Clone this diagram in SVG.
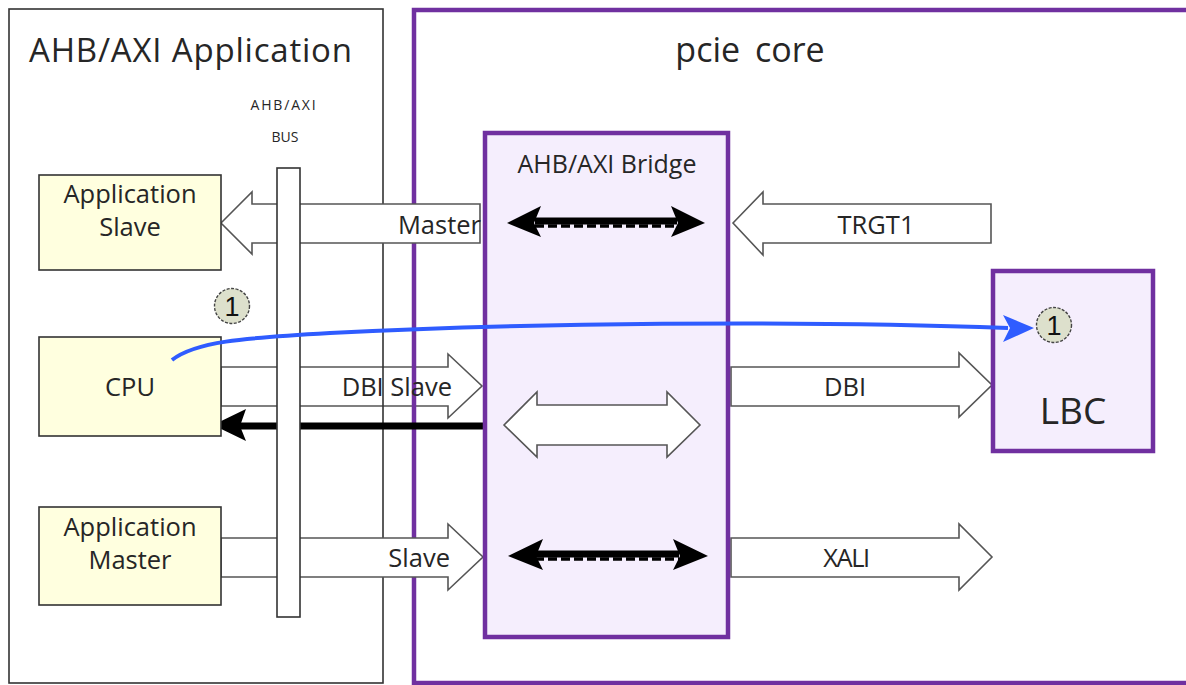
<svg xmlns="http://www.w3.org/2000/svg" width="1186" height="685" viewBox="0 0 1186 685">
<style>
text{font-family:"Open Sans","Noto Sans","Liberation Sans",sans-serif;fill:#262626}
.blk{fill:#fff;stroke:#555;stroke-width:1.6;stroke-linejoin:miter}
.yel{fill:#ffffdf;stroke:#333;stroke-width:1.6}
.pur{fill:#f5eefd;stroke:#7030a0;stroke-width:4.5}
.lbl{font-size:25.5px}
.mid{text-anchor:middle}
.end{text-anchor:end}
.badge{fill:#dde0cc;stroke:#444;stroke-width:1.4;stroke-dasharray:3 1.5}
.bnum{font-size:27px;font-family:"Liberation Sans","Open Sans",sans-serif;fill:#111}
</style>
<rect width="1186" height="685" fill="#fff"/>

<g id="connectors-back">
<path id="arrow-dbi-slave" class="blk" d="M221,367 L448,367 L448,354 L482,386 L448,418 L448,406 L221,406 Z"/>
</g>

<g id="app-container">
<rect x="9" y="9" width="374" height="674" fill="none" stroke="#333" stroke-width="1.6"/>
<text x="29" y="62" font-size="33" letter-spacing="0.8">AHB/AXI Application</text>
</g>

<g id="pcie-core">
<rect x="414" y="10" width="780" height="673" fill="none" stroke="#7030a0" stroke-width="4.5"/>
<text x="750" y="62" font-size="34" class="mid" word-spacing="6">pcie core</text>
</g>

<g id="connectors">
<path id="arrow-master" class="blk" d="M221,223 L252,192 L252,204 L480,204 L480,243 L252,243 L252,254 Z"/>
<path id="arrow-slave" class="blk" d="M221,538 L448,538 L448,524 L483,557 L448,590 L448,577 L221,577 Z"/>
<path id="arrow-trgt1" class="blk" d="M733,223 L763,192 L763,204 L991,204 L991,243 L763,243 L763,255 Z"/>
<path id="arrow-dbi" class="blk" d="M731,367 L959,367 L959,353 L992,385 L959,417 L959,406 L731,406 Z"/>
<path id="arrow-xali" class="blk" d="M731,538 L959,538 L959,524 L992,557 L959,590 L959,577 L731,577 Z"/>
<g id="arrow-return">
<line x1="483" y1="426" x2="240" y2="426" stroke="#000" stroke-width="7"/>
<path d="M213,425 L246,409 L240,426 L246,441 Z" fill="#000"/>
</g>
<text class="lbl end" x="481" y="234">Master</text>
<text class="lbl mid" x="876" y="234">TRGT1</text>
<text class="lbl end" x="452" y="396">DBI Slave</text>
<text class="lbl mid" x="845" y="396">DBI</text>
<text class="lbl end" x="450" y="567">Slave</text>
<text class="lbl mid" x="846" y="567" letter-spacing="-1.5">XALI</text>
</g>

<g id="bus">
<rect x="277" y="168" width="23" height="449" fill="#fff" stroke="#333" stroke-width="1.6"/>
<text x="284" y="110" font-size="14" class="mid" letter-spacing="1.8">AHB/AXI</text>
<text x="285" y="142" font-size="14" class="mid">BUS</text>
</g>

<g id="app-slave">
<rect class="yel" x="39" y="175" width="182" height="95"/>
<text class="lbl mid" x="130" y="203">Application</text>
<text class="lbl mid" x="130" y="236">Slave</text>
</g>

<g id="cpu">
<rect class="yel" x="39" y="337" width="182" height="99"/>
<text class="lbl mid" x="130" y="396">CPU</text>
</g>

<g id="app-master">
<rect class="yel" x="39" y="507" width="182" height="98"/>
<text class="lbl mid" x="130" y="536">Application</text>
<text class="lbl mid" x="130" y="569">Master</text>
</g>

<g id="bridge">
<rect class="pur" x="485" y="133" width="243" height="504"/>
<text x="607" y="173" font-size="25" class="mid">AHB/AXI Bridge</text>
<g id="bridge-top-arrow">
<line x1="535" y1="221" x2="677" y2="221" stroke="#000" stroke-width="7"/>
<line x1="535" y1="226" x2="677" y2="226" stroke="#000" stroke-width="3.5" stroke-dasharray="9 4"/>
<path d="M507,223 L541,206 L534,223 L541,237 Z" fill="#000"/>
<path d="M705,223 L671,206 L678,223 L671,237 Z" fill="#000"/>
</g>
<path class="blk" d="M504,425 L537,392 L537,405 L667,405 L667,392 L700,425 L667,457 L667,445 L537,445 L537,457 Z"/>
<g id="bridge-bottom-arrow">
<line x1="535" y1="554" x2="679" y2="554" stroke="#000" stroke-width="7"/>
<line x1="535" y1="559" x2="679" y2="559" stroke="#000" stroke-width="3.5" stroke-dasharray="9 4"/>
<path d="M508,556 L543,539 L536,556 L543,570 Z" fill="#000"/>
<path d="M708,556 L673,539 L680,556 L673,570 Z" fill="#000"/>
</g>
</g>

<g id="lbc">
<rect class="pur" x="993" y="271" width="160" height="180"/>
<text x="1073" y="424" font-size="37" class="mid">LBC</text>
</g>

<g id="flow">
<path d="M172,360 C195,342 240,338 330,333 C520,323 800,320 1008,328" fill="none" stroke="#2f5cff" stroke-width="4"/>
<path d="M1003,315 L1034,328 L1003,342 L1010,328 Z" fill="#2f5cff"/>
</g>

<g id="badge-1-app">
<circle class="badge" cx="232" cy="306" r="17.5"/>
<text class="bnum mid" x="232" y="316">1</text>
</g>
<g id="badge-1-lbc">
<circle class="badge" cx="1054" cy="325" r="17.5"/>
<text class="bnum mid" x="1054" y="335">1</text>
</g>
</svg>
